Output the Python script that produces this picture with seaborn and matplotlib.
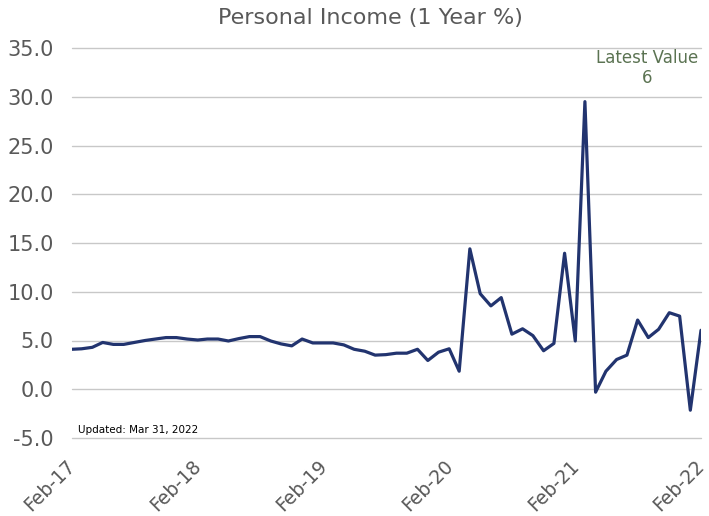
import matplotlib
matplotlib.use("Agg")
import matplotlib.pyplot as plt
import matplotlib.transforms as mtransforms
import seaborn as sns
import pandas as pd
import numpy as np

start_month = "2017-02-01"
values = [4.1, 4.15, 4.3, 4.8, 4.6, 4.6, 4.8, 5.0, 5.15, 5.3, 5.3, 5.15,
          5.05, 5.15, 5.15, 4.95, 5.2, 5.4, 5.4, 4.95, 4.65, 4.45, 5.15, 4.75,
          4.75, 4.75, 4.55, 4.1, 3.9, 3.5, 3.55, 3.7, 3.7, 4.1, 2.95, 3.8,
          4.15, 1.85, 14.4, 9.8, 8.55, 9.4, 5.65, 6.2, 5.5, 3.95, 4.7, 13.95,
          4.95, 29.5, -0.3, 1.85, 3.05, 3.5, 7.1, 5.3, 6.15, 7.85, 7.5, -2.15, 6.05]
tick_labels = ["Feb-17", "Feb-18", "Feb-19", "Feb-20", "Feb-21", "Feb-22"]
y_ticks = [-5, 0, 5, 10, 15, 20, 25, 30, 35]
title = "Personal Income (1 Year %)"
latest_label = "Latest Value\n6"
updated_label = "Updated: Mar 31, 2022"

dates = pd.date_range(start_month, periods=len(values), freq="MS")
df = pd.DataFrame({"date": dates, "value": values})

sns.set_theme(style="white")
plt.rcParams['font.family'] = ['DejaVu Sans']

fig = plt.figure(figsize=(7.09, 5.16), dpi=100)
ax = fig.add_axes([72/709, 1-438/516, (701-72)/709, (438-48)/516])

ax.set_yticks(y_ticks)
ax.set_ylim(-5, 35)
ax.yaxis.grid(True, color="#c8c8c8", linewidth=1.0)
ax.set_axisbelow(True)

sns.lineplot(data=df, x="date", y="value", ax=ax, color="#22346f", linewidth=2.3)

ax.set_xlim(dates[0], dates[-1])
tick_dates = pd.date_range(start_month, periods=len(tick_labels), freq="12MS")
ax.set_xticks(tick_dates)
ax.set_xticklabels(tick_labels, rotation=45, ha="right", rotation_mode="anchor",
                   fontsize=13.5, color="#595959")
ax.set_yticklabels([f"{v:.1f}" for v in y_ticks], fontsize=15, color="#595959")
ax.tick_params(axis="both", length=0)
ax.tick_params(axis="x", pad=13)
ax.tick_params(axis="y", pad=13)
shift = mtransforms.ScaledTranslation(-0.06, 0, fig.dpi_scale_trans)
for lbl in ax.get_xticklabels():
    lbl.set_transform(lbl.get_transform() + shift)
for gl in ax.get_ygridlines():
    gl.set_clip_on(False)
for s in ax.spines.values():
    s.set_visible(False)
ax.set_xlabel("")
ax.set_ylabel("")

fig.text(370/709, 1-18/516, title, ha="center", va="center", fontsize=16, color="#595959")
fig.text(647/709, 1-68/516, latest_label, ha="center", va="center",
         fontsize=12, color="#5b7352", linespacing=1.1)
fig.text(78/709, 1-430/516, updated_label, ha="left", va="center", fontsize=7.5, color="#000000")

fig.savefig("out.png", dpi=100)
